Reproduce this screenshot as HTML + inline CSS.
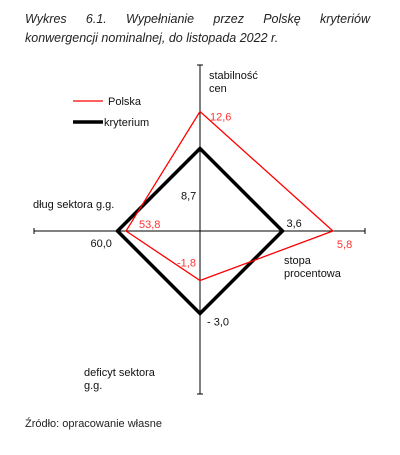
<!DOCTYPE html>
<html><head><meta charset="utf-8"><style>
html,body{margin:0;padding:0;background:#fff;width:400px;height:455px;overflow:hidden}
.t{position:absolute;font-family:"Liberation Sans","DejaVu Sans",sans-serif}
</style></head><body>
<div class="t" style="left:25px;top:10px;width:345px;font-size:12.5px;font-style:italic;line-height:19px;color:#222;text-align:justify;text-align-last:left">Wykres&nbsp; 6.1.&nbsp; Wypełnianie&nbsp; przez&nbsp; Polskę&nbsp; kryteriów konwergencji nominalnej, do listopada 2022 r.</div>
<svg id="c" width="400" height="455" style="position:absolute;left:0;top:0"></svg>
<div class="t" style="left:25px;top:418px;font-size:11px;color:#222">Źródło: opracowanie własne</div>
<script>
const axes=["stabilność cen","stopa procentowa","deficyt sektora g.g.","dług sektora g.g."];
const criterion=[8.7,3.6,-3.0,60.0];
const polska=[12.6,5.8,-1.8,53.8];
const critLabels=["8,7","3,6","- 3,0","60,0"];
const polLabels=["12,6","5,8","-1,8","53,8"];
const NS="http://www.w3.org/2000/svg";
const svg=document.getElementById('c');
const cx=200,cy=231,R=82.5;
const dirs=[[0,-1],[1,0],[0,1],[-1,0]];
function r(i,v){return R*v/criterion[i];}
function pt(i,v){const d=r(i,v);return [cx+dirs[i][0]*d,cy+dirs[i][1]*d];}
function el(tag,attrs){const e=document.createElementNS(NS,tag);for(const k in attrs)e.setAttribute(k,attrs[k]);svg.appendChild(e);return e;}
const ax1=el('line',{x1:34,y1:cy,x2:365,y2:cy,stroke:'#000','stroke-width':1});


const ax2=el('line',{x1:cx,y1:65,x2:cx,y2:394,stroke:'#000','stroke-width':1});


[[34,cy-3,34,cy+3],[365,cy-3,365,cy+3],[cx-3,65,cx+3,65],[cx-3,394,cx+3,394]].forEach(a=>{const t=el('line',{x1:a[0],y1:a[1],x2:a[2],y2:a[3],stroke:'#000'});});
const cp=el('polygon',{points:criterion.map((v,i)=>pt(i,v).join(',')).join(' '),fill:'none',stroke:'#000','stroke-width':3.5});


const pp=el('polygon',{points:polska.map((v,i)=>pt(i,v).join(',')).join(' '),fill:'none',stroke:'#f00','stroke-width':1.3});


function txt(x,y,s,col,name){const t=el('text',{x:x,y:y,fill:col,'font-size':11,'font-family':'Liberation Sans, sans-serif'});t.textContent=s;return t;}
// criterion labels
const cOff=[[-19,-47],[4,-4],[7,12],[-27,16]];
criterion.forEach((v,i)=>{const p=pt(i,v);txt(p[0]+cOff[i][0],p[1]+cOff[i][1]+(i==0?98:0),critLabels[i],'#111','criterion-value-label');});
const pOff=[[10,9],[4,17],[-23,-14],[13,-3]];
polska.forEach((v,i)=>{const p=pt(i,v);txt(p[0]+pOff[i][0],p[1]+pOff[i][1],polLabels[i],'#f33','polska-value-label');});
// axis names
txt(209,79,'stabilność','#111','axis-name-inflation');txt(209,92,'cen','#111','axis-name-inflation');
txt(284,264,'stopa','#111','axis-name-interest');txt(284,277,'procentowa','#111','axis-name-interest');
txt(84,376,'deficyt sektora','#111','axis-name-deficit');txt(84,389,'g.g.','#111','axis-name-deficit');
txt(33,208,'dług sektora g.g.','#111','axis-name-debt');
// legend
const l1=el('line',{x1:73,y1:101,x2:103,y2:101,stroke:'#f00','stroke-width':1.3});


txt(108,105,'Polska','#111','legend-polska');
const l2=el('line',{x1:73,y1:122,x2:103,y2:122,stroke:'#000','stroke-width':3.5});


txt(104,126,'kryterium','#111','legend-kryterium');
</script>
</body></html>
